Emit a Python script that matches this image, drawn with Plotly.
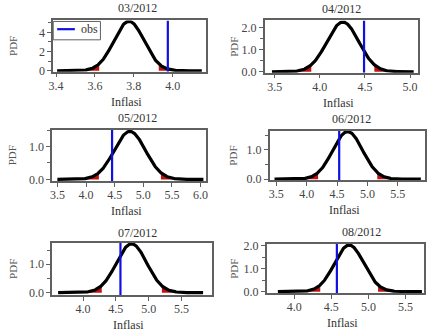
import numpy as np
import plotly.graph_objects as go

W, H = 434, 336

titles = ["03/2012", "04/2012", "05/2012", "06/2012", "07/2012", "08/2012"]
means = [3.775, 4.255, 4.765, 4.675, 4.74, 4.74]
sds = [0.0775, 0.1765, 0.273, 0.246, 0.232, 0.1975]
obs = [3.975, 4.49, 4.455, 4.535, 4.57, 4.575]
curve_lo = [3.405, 3.47, 3.50, 3.47, 3.62, 3.78]
curve_hi = [4.15, 5.04, 6.05, 5.88, 5.83, 5.72]
x_ranges = [[3.385, 4.17], [3.39, 5.09], [3.41, 6.09], [3.39, 5.95], [3.53, 5.96], [3.63, 5.75]]
y_ranges = [[-0.1, 5.23], [-0.04, 2.33], [-0.05, 1.51], [-0.03, 1.65], [-0.09, 1.75], [-0.07, 2.07]]
x_ticks = [[3.4, 3.6, 3.8, 4.0], [3.5, 4.0, 4.5, 5.0], [3.5, 4.0, 4.5, 5.0, 5.5, 6.0],
           [3.5, 4.0, 4.5, 5.0, 5.5], [4.0, 4.5, 5.0, 5.5], [4.0, 4.5, 5.0, 5.5]]
y_ticks = [[0, 2, 4], [0.0, 1.0, 2.0], [0.0, 1.0], [0.0, 1.0], [0.0, 1.0], [0.0, 1.0, 2.0]]
y_minor = [1, 0.5, 0.5, 0.5, 0.5, 0.5]
y_fmt = [".0f", ".1f", ".1f", ".1f", ".1f", ".1f"]
legend_label = "obs"

# pixel boxes (left, right, top, bottom)
boxes = [(49, 204, 16, 69), (264, 420, 16, 70), (48, 204, 129, 182),
         (269, 427, 130, 181), (48, 210, 246, 300), (266, 426, 247, 298)]
title_pos = [(135, 3), (342, 4), (135, 117), (352, 118), (135, 236), (362, 235)]

FONT = "Liberation Serif, Times New Roman, Times, serif"
LINE = "#606060"
fig = go.Figure()
annotations = []
shapes = []

def px(x):
    return x / W

def py(y):
    return 1 - y / H

for i in range(6):
    n = i + 1
    xa = "x" if n == 1 else f"x{n}"
    ya = "y" if n == 1 else f"y{n}"
    m, s = means[i], sds[i]
    xs = np.linspace(curve_lo[i], curve_hi[i], 300)
    pdf = np.exp(-0.5 * ((xs - m) / s) ** 2) / (s * np.sqrt(2 * np.pi))
    ql, qh = m - 1.96 * s, m + 1.96 * s
    for mask in (xs <= ql, xs >= qh):
        fig.add_trace(go.Scatter(x=xs[mask], y=pdf[mask], mode="lines", fill="tozeroy",
                                 fillcolor="#c0140f", line=dict(color="#c0140f", width=0),
                                 showlegend=False, xaxis=xa, yaxis=ya, hoverinfo="skip"))
    fig.add_trace(go.Scatter(x=xs, y=pdf, mode="lines", line=dict(color="black", width=3.2),
                             showlegend=False, xaxis=xa, yaxis=ya))
    fig.add_trace(go.Scatter(x=[obs[i], obs[i]], y=y_ranges[i], mode="lines",
                             line=dict(color="#1010e0", width=2.2), name=legend_label,
                             showlegend=False, xaxis=xa, yaxis=ya))
    l, r, t, b = boxes[i]
    axstyle = dict(showline=True, mirror=True, linecolor=LINE, linewidth=1.5,
                   ticks="outside", ticklen=4, tickcolor=LINE, showgrid=False,
                   zeroline=False, tickfont=dict(family=FONT, size=12, color="#444"))
    fig.layout[f"xaxis{'' if n == 1 else n}"] = dict(
        domain=[px(l), px(r)], range=x_ranges[i], anchor=ya, tickvals=x_ticks[i],
        tickformat=".1f", ticklabelstandoff=-2, **axstyle)
    fig.layout[f"yaxis{'' if n == 1 else n}"] = dict(
        domain=[py(b), py(t)], range=y_ranges[i], anchor=xa, tickvals=y_ticks[i],
        tickformat=y_fmt[i], minor=dict(dtick=y_minor[i], ticks="outside", ticklen=3,
                                         tickcolor=LINE), **axstyle)
    tx, ty = title_pos[i]
    annotations.append(dict(text=titles[i], x=px(tx), y=py(ty), xref="paper", yref="paper",
                            showarrow=False, font=dict(family=FONT, size=12, color="#333"),
                            xanchor="center", yanchor="middle"))
    annotations.append(dict(text="Inflasi", x=px((l + r) / 2 - 3), y=py(b + 31),
                            xref="paper", yref="paper", showarrow=False,
                            font=dict(family=FONT, size=12, color="#333"),
                            xanchor="center", yanchor="middle"))
    pdf_x = 8 if i % 2 == 0 else 232
    annotations.append(dict(text="PDF", x=px(pdf_x), y=py((t + b) / 2), xref="paper",
                            yref="paper", showarrow=False, textangle=-90,
                            font=dict(family=FONT, size=11, color="#555"),
                            xanchor="center", yanchor="middle"))

# legend box in first panel
shapes.append(dict(type="rect", xref="paper", yref="paper", x0=px(49), x1=px(97),
                   y0=py(36), y1=py(17), line=dict(color=LINE, width=1), fillcolor="white"))
shapes.append(dict(type="line", xref="paper", yref="paper", x0=px(53), x1=px(71),
                   y0=py(25), y1=py(25), line=dict(color="#1010e0", width=2.2)))
annotations.append(dict(text=legend_label, x=px(75), y=py(25), xref="paper", yref="paper",
                        showarrow=False, xanchor="left", yanchor="middle",
                        font=dict(family=FONT, size=12, color="#333")))

fig.update_layout(
    width=W, height=H, margin=dict(l=0, r=0, t=0, b=0),
    paper_bgcolor="white", plot_bgcolor="white", showlegend=False,
    annotations=annotations, shapes=shapes,
)
fig.write_html("out.html")
